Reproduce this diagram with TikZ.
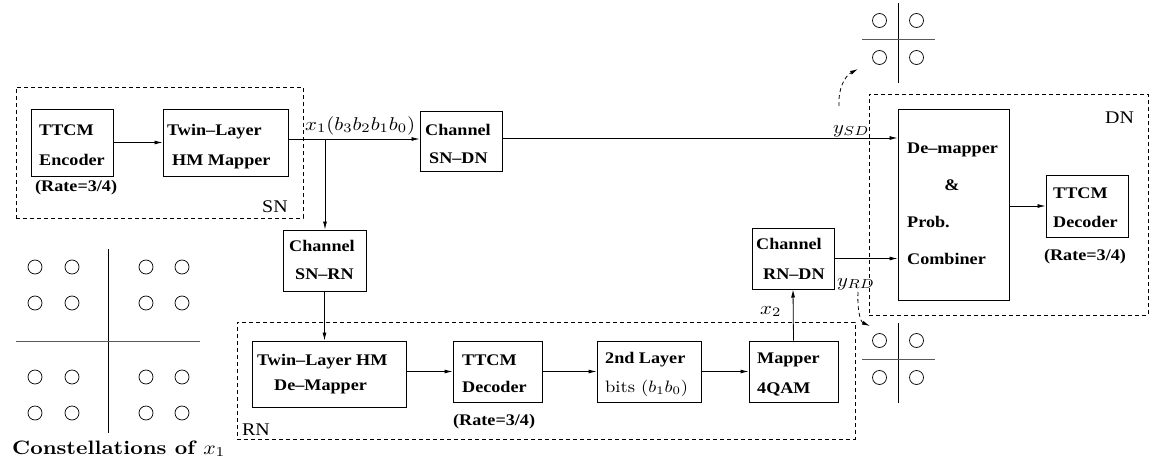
\documentclass[tikz,border=0pt]{standalone}
\usepackage{fontspec}
\newfontfamily\tnr[Ligatures=TeX, FakeStretch=1.12]{Liberation Serif}
\usetikzlibrary{arrows.meta,calc}

% LaTeX-set labels, enlarged from 10pt and widened like the Times text
\newcommand{\lbl}[2]{\scalebox{\fpeval{1.12*#1}}[#1]{#2}}

\tikzset{
  blk/.style={draw, line width=1pt, inner sep=0pt, minimum width=#1},
  region/.style={draw, dashed, dash pattern=on 4pt off 3pt, line width=0.7pt, inner sep=0pt},
  txt/.style={anchor=base west, inner sep=0pt, font=\tnr\bfseries\fontsize{16.2}{18}\selectfont},
  ctxt/.style={txt, anchor=base},
  tag/.style={anchor=base west, inner sep=0pt, font=\tnr\fontsize{17.8}{20}\selectfont},
  mlbl/.style={anchor=base west, inner sep=0pt, font=\normalsize},
  arr/.style={line width=0.8pt, -{Latex[length=8pt,width=4pt]}},
  dcurve/.style={line width=0.8pt, dashed, dash pattern=on 4pt off 3pt, -{Latex[length=8pt,width=4pt]}},
  pt/.style={line width=0.7pt},
  axh/.style={line width=0.8pt, black!65},
  axv/.style={line width=0.8pt},
}

\begin{document}
\begin{tikzpicture}[x=1pt, y=-1pt]
\useasboundingbox (0,0) rectangle (1149,463);

% ---- region frames ----
\node[region, minimum width=287pt, minimum height=131pt] (SN) at (159.5,152.5) {};
\node[region, minimum width=279pt, minimum height=221pt] (DN) at (1008.5,204.5) {};
\node[region, minimum width=618pt, minimum height=117pt] (RN) at (546,380.5) {};
\node[tag] (snl) at (262,212) {SN};
\node[tag] (dnl) at (1105,123) {DN};
\node[tag] (rnl) at (242,435) {RN};

% ---- source node ----
\node[blk=82pt, minimum height=67pt] (enc) at (72,142.5) {};
\node[txt] (enc1) at (39,135) {TTCM};
\node[txt] (enc2) at (39,165) {Encoder};
\node[txt] (enc3) at (35,191) {(Rate=3/4)};

\node[blk=125pt, minimum height=67pt] (hmmap) at (225.5,142.5) {};
\node[txt] (hm1) at (167,135) {Twin--Layer};
\node[txt] (hm2) at (172,165) {HM Mapper};

% ---- channels ----
\node[blk=82pt, minimum height=60pt] (chSD) at (461,141) {};
\node[txt] (sd1) at (425,135) {Channel};
\node[txt] (sd2) at (429,163) {SN--DN};

\node[blk=83pt, minimum height=61pt] (chSR) at (324.5,260.5) {};
\node[txt] (sr1) at (289,251) {Channel};
\node[txt] (sr2) at (295,279) {SN--RN};

\node[blk=82pt, minimum height=61pt] (chRD) at (793,258.5) {};
\node[txt] (rd1) at (756,249) {Channel};
\node[txt] (rd2) at (763,279) {RN--DN};

% ---- relay node ----
\node[blk=154pt, minimum height=66pt] (hmdem) at (329,374) {};
\node[txt] (hd1) at (257,365) {Twin--Layer HM};
\node[txt] (hd2) at (274,390) {De--Mapper};

\node[blk=89pt, minimum height=61pt] (rndec) at (497.5,371.5) {};
\node[txt] (rn1) at (462,365) {TTCM};
\node[txt] (rn2) at (462,392) {Decoder};
\node[txt] (rn3) at (453,425) {(Rate=3/4)};

\node[blk=104pt, minimum height=61pt] (bits) at (649,371.5) {};
\node[txt] (bt1) at (605,363) {2nd Layer};
\node[mlbl] (bt2) at (605,392) {\lbl{1.65}{bits $(b_1b_0)$}};

\node[blk=89pt, minimum height=61pt] (qam) at (793.5,371.5) {};
\node[txt] (qm1) at (757,363) {Mapper};
\node[txt] (qm2) at (757,393) {4QAM};

% ---- destination node ----
\node[blk=111pt, minimum height=191pt] (demap) at (953.5,204.5) {};
\node[txt] (dm1) at (907,153) {De--mapper};
\node[ctxt] (dm2) at (952,190) {\&};
\node[txt] (dm3) at (907,227) {Prob.};
\node[txt] (dm4) at (907,264) {Combiner};

\node[blk=82pt, minimum height=62pt] (dndec) at (1087,206) {};
\node[txt] (dd1) at (1053,198) {TTCM};
\node[txt] (dd2) at (1053,227) {Decoder};
\node[ctxt] (dd3) at (1085,260) {(Rate=3/4)};

% ---- signal labels ----
\node[mlbl] (x1l) at (305,130) {\lbl{1.85}{$x_1(b_3b_2b_1b_0)$}};
\node[mlbl] (ysdl) at (833,133) {\lbl{1.85}{$y_{SD}$}};
\node[mlbl] (yrdl) at (837,286) {\lbl{1.85}{$y_{RD}$}};
\node[mlbl] (x2l) at (760,314) {\lbl{1.85}{$x_2$}};

% ---- connectors ----
\coordinate (split) at (325,139);
\draw[arr] (enc) -- (hmmap);
\draw[arr] (hmmap.east |- split) -- (chSD.west |- split);
\draw[arr] (split) -- (split |- chSR.north);
\draw[arr] (chSD.east |- 0,138) -- (demap.west |- 0,138);
\draw[arr] (chSR.south) -- (chSR.south |- hmdem.north);
\draw[arr] (hmdem.east |- rndec.west) -- (rndec.west);
\draw[arr] (rndec) -- (bits);
\draw[arr] (bits) -- (qam);
\draw[arr] (qam.north) -- (chRD.south);
\draw[arr] (chRD.east) -- (chRD.east -| demap.west);
\draw[arr] (demap.east |- dndec.west) -- (dndec.west);

% ---- constellation pointers ----
\coordinate (cs1) at (839,106);
\coordinate (ce1) at (858,69);
\draw[dcurve] (cs1) .. controls (838,88) and (845,76) .. (ce1);
\coordinate (cs2) at (858,292);
\coordinate (ce2) at (870,326);
\draw[dcurve] (cs2) .. controls (857,312) and (861,322) .. (ce2);

% ---- 4QAM constellations ----
\foreach \cy in {39,359} {
  \draw[axv] (898,\cy-36) -- (898,\cy+44);
  \draw[axh] (862,\cy) -- (935,\cy);
  \foreach \dx in {-18.5,18.5}
    \foreach \dy in {-18.5,18.5}
      \draw[pt] (898+\dx,\cy+\dy) circle[radius=7];
}

% ---- 16-point constellation of x1 ----
\draw[axv] (108,249) -- (108,433);
\draw[axh] (16,341) -- (200,341);
\foreach \px in {35,72,146,182}
  \foreach \py in {267,303,377,413}
    \draw[pt] (\px,\py) circle[radius=7];
\node[mlbl] (cap) at (12,454) {\lbl{1.94}{\bfseries Constellations of $x_1$}};

\end{tikzpicture}
\end{document}
